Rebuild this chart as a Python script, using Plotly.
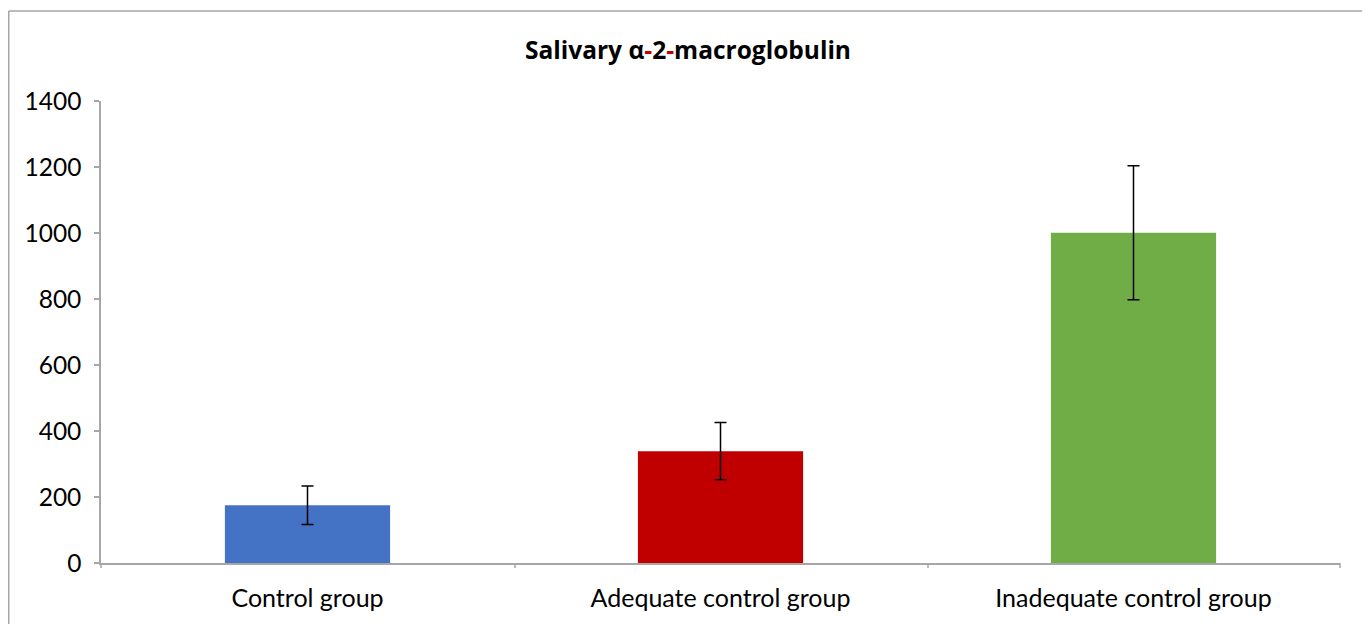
import plotly.graph_objects as go

categories = ["Control group", "Adequate control group", "Inadequate control group"]
means = [175, 339, 1001]
errors = [58, 87, 203]
colors = ["#4472C4", "#C00000", "#70AD47"]
y_ticks = [0, 200, 400, 600, 800, 1000, 1200, 1400]

# page has an 8px body margin; work in page coords and convert
OFF = 8
W, H = 1370 - OFF, 624 - OFF
L, R, T, B = 101 - OFF, 30, 101 - OFF, 61
pw, ph = W - L - R, H - T - B

def px(x):
    return (x - OFF - L) / pw

def py(y):
    return (H - B - (y - OFF)) / ph

fig = go.Figure(go.Bar(
    x=categories, y=means,
    marker=dict(color=colors, line=dict(width=0)),
    width=0.4,
    error_y=dict(type="data", array=errors, visible=True, color="#000000", thickness=1.5, width=6),
))

fig.update_layout(
    width=W, height=H,
    margin=dict(l=L, r=R, t=T, b=B),
    paper_bgcolor="white", plot_bgcolor="white",
    font=dict(family="Lato, Open Sans, sans-serif", size=24, color="#000000"),
    title=dict(
        text="<b>Salivary α<span style='color:#C00000'>-</span>2<span style='color:#C00000'>-</span>macroglobulin</b>",
        x=px(688), xanchor="center", xref="paper", y=1 - (50 - OFF) / H, yanchor="middle",
        font=dict(size=24.5, family="Open Sans, sans-serif", color="#000000"),
    ),
    showlegend=False,
    xaxis=dict(
        showgrid=False, showline=True, linecolor="#a6a6a6", linewidth=1.5,
        ticks="", ticklabelstandoff=12, tickfont=dict(size=25),
        zeroline=False,
    ),
    yaxis=dict(
        range=[0, 1400], tickvals=y_ticks, showgrid=False,
        showline=True, linecolor="#a6a6a6", linewidth=1.5,
        ticks="outside", ticklen=5, tickcolor="#a6a6a6", tickwidth=1.5,
        ticklabelstandoff=8,
        tickfont=dict(size=24.5), zeroline=False,
    ),
)

# category divider ticks below x axis
for xpix in [101, 515, 928, 1340]:
    fig.add_shape(type="line", xref="paper", yref="paper",
                  x0=px(xpix), x1=px(xpix), y0=0, y1=py(568),
                  line=dict(color="#a6a6a6", width=1.5))

# outer frame: top, left and right edges (bottom edge lies outside the picture)
frame_l, frame_r, frame_t, frame_b = 8.75, 1368.5, 11, 624
for (xa, ya, xb, yb) in [(frame_l, frame_t, frame_r, frame_t),
                         (frame_l, frame_t, frame_l, frame_b),
                         (frame_r, frame_t, frame_r, frame_b)]:
    fig.add_shape(type="line", xref="paper", yref="paper",
                  x0=px(xa), x1=px(xb), y0=py(ya), y1=py(yb),
                  line=dict(color="#a6a6a6", width=1.5))

fig.write_html("out.html")
